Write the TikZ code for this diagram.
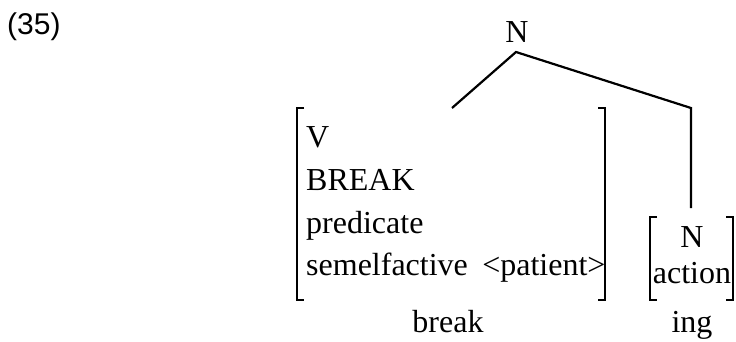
\documentclass[tikz,border=0pt]{standalone}
\usepackage{fontspec}
\setmainfont{Liberation Serif}
\newfontfamily\exfont{Liberation Sans}
\begin{document}
\begin{tikzpicture}[x=1pt,y=-1pt,
  txt/.style={inner sep=0pt,font=\fontsize{32}{36}\selectfont},
  ex/.style={inner sep=0pt,font=\exfont\fontsize{30}{34}\selectfont},
  ln/.style={line width=2.2pt,line cap=butt},
  brk/.style={line width=2.2pt,line join=miter}]
\useasboundingbox (0,0) rectangle (736,341);
% example number
\node[ex,anchor=base west] (num) at (7,34) {(35)};
% top node
\node[txt,anchor=base] (top) at (517,42) {N};
\coordinate (apex) at (516,52);
\coordinate (lend) at (452,108);
\coordinate (corner) at (691,108);
\coordinate (rend) at (691,208);
\draw[ln] (lend) -- (apex) -- (corner) -- (rend);
% big bracket
\draw[brk] (304,108) -- (297,108) -- (297,300) -- (304,300);
\draw[brk] (598,108) -- (605,108) -- (605,300) -- (598,300);
\node[txt,anchor=base west] (v) at (306,147) {V};
\node[txt,anchor=base west] (brk) at (306,190) {BREAK};
\node[txt,anchor=base west] (pred) at (306,233) {predicate};
\node[txt,anchor=base west] (sem) at (306,275) {semelfactive\hspace{0.45em}<patient>};
\node[txt,anchor=base] (break) at (448,332) {break};
% small bracket
\draw[brk] (657,217) -- (650,217) -- (650,300) -- (657,300);
\draw[brk] (726,217) -- (733,217) -- (733,300) -- (726,300);
\node[txt,anchor=base] (n2) at (692,247) {N};
\node[txt,anchor=base] (act) at (692,283) {action};
\node[txt,anchor=base] (ing) at (692,332) {ing};
\end{tikzpicture}
\end{document}
